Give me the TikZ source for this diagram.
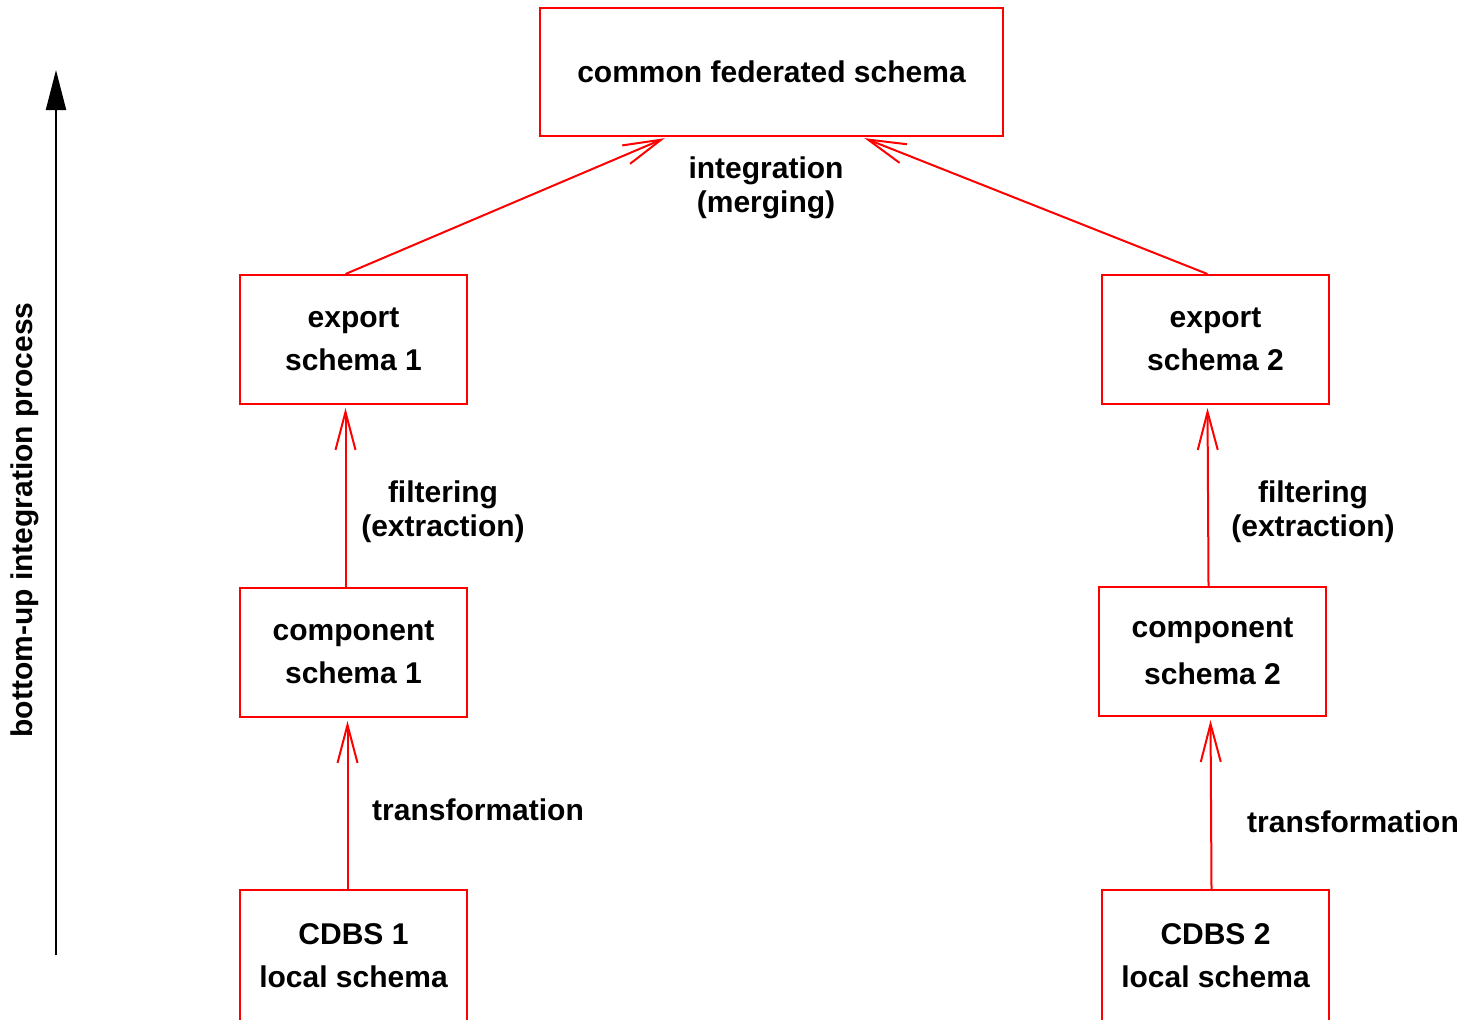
\documentclass[tikz,border=0pt]{standalone}
\usepackage{fontspec}
\setmainfont{Liberation Sans}
\usetikzlibrary{arrows.meta}
\tikzset{
  sch_box/.style = {rectangle, draw=red, line width=1pt, align=center,
    inner sep=0pt, minimum width=113.5pt, minimum height=64.5pt,
    font=\fontsize{15}{21.5}\selectfont\bfseries},% schema box
  sch_lbl/.style = {align=center, inner sep=0pt,
    font=\fontsize{15}{17}\selectfont\bfseries},% step label
  map_arr/.style = {draw=red, line width=1pt, shorten >=1.5pt,
    -{Straight Barb[length=19pt,width=10pt]}}% mapping arrow
}
\begin{document}
\begin{tikzpicture}[x=0.5pt,y=-0.5pt]
  \useasboundingbox (0,0) rectangle (1465,1019);
  % boxes
  \node [sch_box, minimum width=231.5pt, minimum height=64pt] (fed) at (771.5,72) {common federated schema};
  \node [sch_box] (exp1) at (353.5,339.5) {export\\schema 1};
  \node [sch_box] (exp2) at (1215.5,339.5) {export\\schema 2};
  \node [sch_box] (comp1) at (353.5,652.5) {component\\schema 1};
  \node [sch_box, font=\fontsize{15}{23.5}\selectfont\bfseries] (comp2) at (1212.5,651.5) {component\\schema 2};
  \node [sch_box, minimum height=66pt] (loc1) at (353.5,956) {CDBS 1\\local schema};
  \node [sch_box, minimum height=66pt] (loc2) at (1215.5,956) {CDBS 2\\local schema};
  % mappings
  \draw [map_arr] ([xshift=-4pt]exp1.north) -- ([xshift=-52pt]fed.south);
  \draw [map_arr] ([xshift=-4pt]exp2.north) -- ([xshift=45pt]fed.south);
  \draw [map_arr] ([xshift=-4pt]comp1.north) -- ([xshift=-4pt]exp1.south);
  \draw [map_arr] ([xshift=-2pt]comp2.north) -- ([xshift=-4pt]exp2.south);
  \draw [map_arr] ([xshift=-3pt]loc1.north) -- ([xshift=-3pt]comp1.south);
  \draw [map_arr] ([xshift=-2pt]loc2.north) -- ([xshift=-1pt]comp2.south);
  % labels
  \node [sch_lbl] (l_int) at (766,188) {integration\\(merging)};
  \node [sch_lbl] (l_flt1) at (443,512) {filtering\\(extraction)};
  \node [sch_lbl] (l_flt2) at (1313,512) {filtering\\(extraction)};
  \node [sch_lbl] (l_trf1) at (478,810) {transformation};
  \node [sch_lbl] (l_trf2) at (1353,822) {transformation};
  % direction
  \coordinate (up_lo) at (56,955);
  \coordinate (up_hi) at (56,70);
  \draw [line width=1pt, -{Triangle[length=20pt,width=10pt]}] (up_lo) -- (up_hi);
  \node [sch_lbl, rotate=90] (dir) at (25,520) {bottom-up integration process};
\end{tikzpicture}
\end{document}
